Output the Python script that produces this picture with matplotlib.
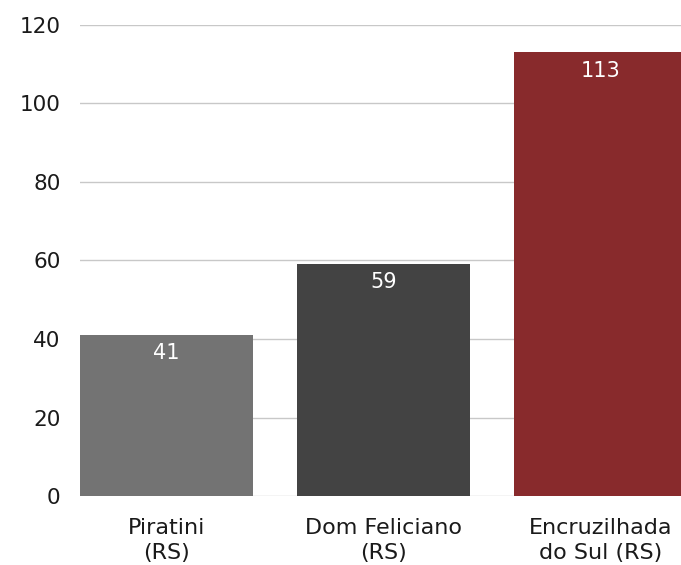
import matplotlib
matplotlib.use("Agg")
import matplotlib.pyplot as plt

categories = ["Piratini\n(RS)", "Dom Feliciano\n(RS)", "Encruzilhada\ndo Sul (RS)"]
values = [41, 59, 113]
colors = ["#737373", "#434343", "#882A2C"]
yticks = [0, 20, 40, 60, 80, 100, 120]

plt.rcParams['font.family'] = ['DejaVu Sans']

fig = plt.figure(figsize=(6.81, 5.65), dpi=100)
ax = fig.add_axes([0.1175, 0.1221, 0.8825, 0.8337])
x = range(len(categories))
bars = ax.bar(x, values, width=0.797, color=colors, zorder=3)
ax.set_xlim(-0.3985, 2.371)
ax.set_ylim(0, 120)
ax.set_yticks(yticks)
ax.yaxis.grid(True, color="#c8c8c8", linewidth=1, zorder=0)
for s in ax.spines.values():
    s.set_visible(False)
ax.tick_params(axis="y", length=0, pad=14, labelsize=15.5, labelcolor="#1a1a1a")
ax.tick_params(axis="x", length=0, pad=16, labelsize=16, labelcolor="#1a1a1a")
ax.set_xticks(list(x))
ax.set_xticklabels(categories, linespacing=1.3)
for b, v in zip(bars, values):
    ax.annotate(str(v), (b.get_x() + b.get_width() / 2, v), xytext=(0, -13),
                textcoords="offset points", ha="center", va="center",
                color="white", fontsize=15, zorder=4)
fig.savefig("out.png", dpi=100)
